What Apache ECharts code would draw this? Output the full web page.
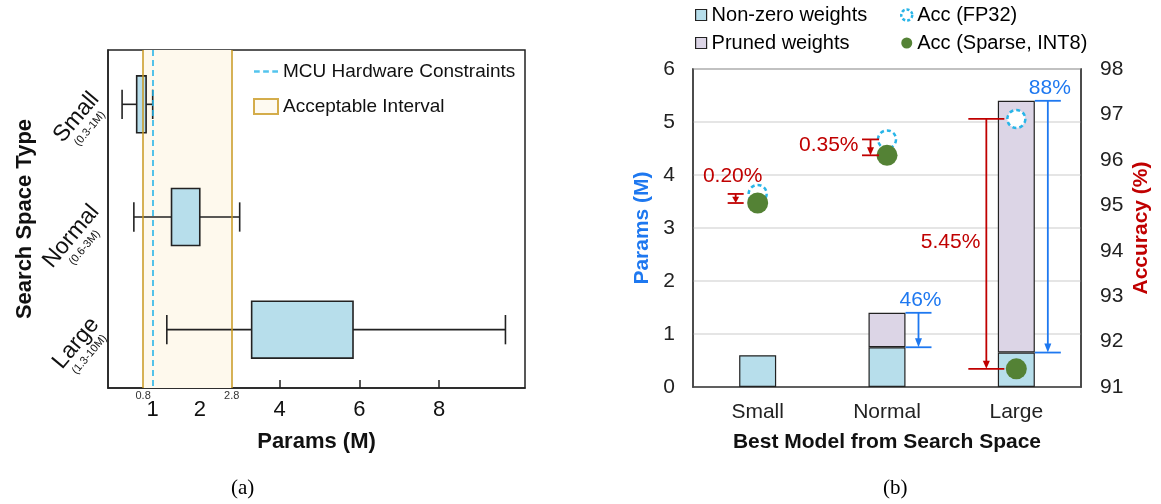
<!DOCTYPE html>
<html>
<head>
<meta charset="utf-8">
<script src="https://cdn.jsdelivr.net/npm/echarts@6/dist/echarts.min.js"></script>
<style>
html,body{margin:0;padding:0;background:#fff;}
#c{width:1161px;height:504px;}
</style>
</head>
<body>
<div id="c"></div>
<script>
// ---------- (a) search-space box plot ----------
const L_CATS = ['Small', 'Normal', 'Large'];
const L_RANGES = ['(0.3-1M)', '(0.6-3M)', '(1.3-10M)'];
const L_LOW = [0.35, 0.6, 1.3];
const L_Q1 = [0.66, 1.4, 3.3];
const L_Q3 = [0.86, 2.0, 5.84];
const L_HIGH = [1.0, 3.0, 9.66];
const MCU_LIMIT = 1;
const INTERVAL = [0.8, 2.8];
const L_TICKS = [1, 2, 4, 6, 8];
const L_MINOR_TICKS = [2, 4, 6, 8];

// ---------- (b) best models ----------
const R_CATS = ['Small', 'Normal', 'Large'];
const NONZERO = [0.6, 0.75, 0.65];
const PRUNED = [null, 0.65, 4.75];
const ACC_FP32 = [95.25, 96.45, 96.9];
const ACC_INT8 = [95.05, 96.1, 91.4];
const DROP_LABELS = ['0.20%', '0.35%', '5.45%'];
const PRUNE_LABELS = [null, '46%', '88%'];

// The reference's Params axis is stretched below 2M (piecewise scale).
const STRETCH = 1.18;
function fx(v) { return v >= 2 ? v : 2 - (2 - v) * STRETCH; }

const FONT = 'Liberation Sans, Arial, sans-serif';
const BLUE_BOX = '#b7deeb';
const LAVENDER = '#dcd5e6';
const ORANGE = '#c9981f';
const CREAM = '#fef9ed';
const MCU_BLUE = '#29b5e8';
const RED = '#c00000';
const BLUE = '#1e78f0';
const GREEN = '#548235';

const boxData = L_CATS.map((c, i) => [i, fx(L_LOW[i]), fx(L_Q1[i]), fx(L_Q3[i]), fx(L_HIGH[i])]);
const tickPos = L_TICKS.map(fx);

const dropData = R_CATS.map((c, i) => [i, ACC_FP32[i], ACC_INT8[i]]);
const pruneData = [];
R_CATS.forEach((c, i) => {
  if (PRUNE_LABELS[i]) pruneData.push([i, NONZERO[i] + (PRUNED[i] || 0), NONZERO[i]]);
});
// styling of annotation brackets (pixel offsets), per category
const DROP_STYLE = [
  { dx: -22, cap: 8, lab: 'top' },
  { dx: -16.5, cap: 8.5, lab: 'left', lx: -12 },
  { dx: -30, cap: 18, lab: 'left', lx: -6 }
];

function arrowBracket(x, yTop, yBot, capL, capR, color, ah) {
  return [
    { type: 'line', shape: { x1: x, y1: yTop, x2: x, y2: yBot - ah + 1 }, style: { stroke: color, lineWidth: 1.8 } },
    { type: 'polygon', shape: { points: [[x - 3.5, yBot - ah], [x + 3.5, yBot - ah], [x, yBot]] }, style: { fill: color } },
    { type: 'line', shape: { x1: capL, y1: yTop, x2: capR, y2: yTop }, style: { stroke: color, lineWidth: 1.8 } },
    { type: 'line', shape: { x1: capL, y1: yBot, x2: capR, y2: yBot }, style: { stroke: color, lineWidth: 1.8 } }
  ];
}

const option = {
  animation: false,
  textStyle: { fontFamily: FONT },
  grid: [
    { left: 108, top: 50, width: 417, height: 338, show: true, borderColor: '#222', borderWidth: 1.5, backgroundColor: 'transparent' },
    { left: 693, top: 69, width: 388, height: 318, show: true, borderColor: '#404040', borderWidth: 1.5, backgroundColor: 'transparent' }
  ],
  legend: [
    {
      orient: 'vertical', left: 248, top: 57, itemGap: 16, itemWidth: 24, itemHeight: 15,
      textStyle: { fontSize: 19, color: '#111', fontFamily: FONT },
      data: [
        { name: 'MCU Hardware Constraints', icon: 'path://M0,0h5v2h-5z M8,0h5v2h-5z M16,0h5v2h-5z', itemStyle: { color: MCU_BLUE } },
        { name: 'Acceptable Interval', icon: 'rect', itemStyle: { color: CREAM, borderColor: ORANGE, borderWidth: 2 } }
      ]
    },
    {
      orient: 'vertical', left: 690, top: 0, itemGap: 8, itemWidth: 11, itemHeight: 11,
      textStyle: { fontSize: 20, color: '#000', fontFamily: FONT },
      data: [
        { name: 'Non-zero weights', icon: 'rect', itemStyle: { color: BLUE_BOX, borderColor: '#222', borderWidth: 1.2 } },
        { name: 'Pruned weights', icon: 'rect', itemStyle: { color: LAVENDER, borderColor: '#222', borderWidth: 1.2 } }
      ]
    },
    {
      orient: 'vertical', left: 895, top: 0, itemGap: 8, itemWidth: 11, itemHeight: 11,
      textStyle: { fontSize: 20, color: '#000', fontFamily: FONT },
      data: [
        { name: 'Acc (FP32)', icon: 'circle', itemStyle: { color: '#fff', borderColor: MCU_BLUE, borderWidth: 2.5, borderType: [3, 2] } },
        { name: 'Acc (Sparse, INT8)', icon: 'circle', itemStyle: { color: GREEN } }
      ]
    }
  ],
  xAxis: [
    {
      gridIndex: 0, type: 'value', min: -0.3, max: 10.15,
      axisLine: { show: true, onZero: false, lineStyle: { color: '#222', width: 1.5 } },
      axisTick: { show: true, inside: true, length: 8, customValues: L_MINOR_TICKS.map(fx), lineStyle: { color: '#222', width: 1.5 } },
      axisLabel: {
        customValues: tickPos, margin: 11, fontSize: 22, color: '#111',
        formatter: function (v) {
          const i = tickPos.findIndex(p => Math.abs(p - v) < 1e-6);
          return i >= 0 ? String(L_TICKS[i]) : '';
        }
      },
      splitLine: { show: false },
      name: 'Params (M)', nameLocation: 'middle', nameGap: 43,
      nameTextStyle: { fontSize: 22, fontWeight: 'bold', color: '#111' }
    },
    {
      gridIndex: 1, type: 'category', data: R_CATS,
      axisLine: { show: true, lineStyle: { color: '#404040', width: 1.5 } },
      axisTick: { show: false },
      axisLabel: { fontSize: 21, color: '#222', margin: 15 },
      name: 'Best Model from Search Space', nameLocation: 'middle', nameGap: 45,
      nameTextStyle: { fontSize: 21, fontWeight: 'bold', color: '#111' }
    }
  ],
  yAxis: [
    {
      gridIndex: 0, type: 'category', data: L_CATS, inverse: true,
      axisLine: { show: true, onZero: false, lineStyle: { color: '#222', width: 1.5 } },
      axisTick: { show: false },
      axisLabel: {
        rotate: 50, margin: 0, color: '#111', padding: [0, 0, 22, 0],
        formatter: (v, i) => '{a|' + v + '}\n{b|' + L_RANGES[i] + '}',
        rich: { a: { fontSize: 23, lineHeight: 23, color: '#111' }, b: { fontSize: 11, lineHeight: 12, color: '#111', align: 'center' } }
      },
      name: 'Search Space Type', nameLocation: 'middle', nameGap: 68, nameRotate: 90,
      nameTextStyle: { fontSize: 22, fontWeight: 'bold', color: '#111' }
    },
    {
      gridIndex: 1, type: 'value', min: 0, max: 6, interval: 1, position: 'left',
      axisLine: { show: true, lineStyle: { color: '#404040', width: 1.5 } },
      axisTick: { show: false },
      axisLabel: { fontSize: 21, color: '#222', margin: 18 },
      splitLine: { show: true, lineStyle: { color: '#dcdcdc', width: 1.5 } },
      name: 'Params (M)', nameLocation: 'middle', nameGap: 40, nameRotate: 90,
      nameTextStyle: { fontSize: 21, fontWeight: 'bold', color: BLUE }
    },
    {
      gridIndex: 1, type: 'value', min: 91, max: 98, interval: 1, position: 'right',
      axisLine: { show: true, lineStyle: { color: '#404040', width: 1.5 } },
      axisTick: { show: false },
      axisLabel: { fontSize: 21, color: '#222', margin: 19 },
      splitLine: { show: false },
      name: 'Accuracy (%)', nameLocation: 'middle', nameGap: 50, nameRotate: 90,
      nameTextStyle: { fontSize: 21, fontWeight: 'bold', color: RED }
    }
  ],
  series: [
    {
      name: 'Acceptable Interval', type: 'scatter', xAxisIndex: 0, yAxisIndex: 0, data: [], z: 1,
      markArea: {
        silent: true, itemStyle: { color: CREAM },
        data: [[{ xAxis: fx(INTERVAL[0]) }, { xAxis: fx(INTERVAL[1]) }]]
      },
      markLine: {
        silent: true, symbol: 'none',
        lineStyle: { color: ORANGE, width: 1.5, type: 'solid' },
        label: { position: 'end', fontSize: 11, color: '#333', distance: 2 },
        data: INTERVAL.map(v => ({ xAxis: fx(v), label: { formatter: String(v) } }))
      }
    },
    {
      name: 'MCU Hardware Constraints', type: 'scatter', xAxisIndex: 0, yAxisIndex: 0, data: [], z: 3,
      markLine: {
        silent: true, symbol: 'none',
        lineStyle: { color: MCU_BLUE, width: 1.6, type: [6, 4] },
        label: { show: false },
        data: [{ xAxis: fx(MCU_LIMIT) }]
      }
    },
    {
      name: 'boxes', type: 'custom', xAxisIndex: 0, yAxisIndex: 0, z: 2,
      encode: { x: [1, 2, 3, 4], y: 0 },
      data: boxData,
      renderItem: function (params, api) {
        const yi = api.value(0);
        const band = api.size([0, 1])[1];
        const bh = band * 0.505, ch = band * 0.26;
        const pL = api.coord([api.value(1), yi]);
        const p1 = api.coord([api.value(2), yi]);
        const p3 = api.coord([api.value(3), yi]);
        const pH = api.coord([api.value(4), yi]);
        const cy = pL[1] - 2;
        const ls = { stroke: '#222', lineWidth: 1.6 };
        return {
          type: 'group', children: [
            { type: 'line', shape: { x1: pL[0], y1: cy, x2: p1[0], y2: cy }, style: ls },
            { type: 'line', shape: { x1: p3[0], y1: cy, x2: pH[0], y2: cy }, style: ls },
            { type: 'line', shape: { x1: pL[0], y1: cy - ch / 2, x2: pL[0], y2: cy + ch / 2 }, style: ls },
            { type: 'line', shape: { x1: pH[0], y1: cy - ch / 2, x2: pH[0], y2: cy + ch / 2 }, style: ls },
            { type: 'rect', shape: { x: p1[0], y: cy - bh / 2, width: p3[0] - p1[0], height: bh }, style: { fill: BLUE_BOX, stroke: '#222', lineWidth: 1.6 } }
          ]
        };
      }
    },
    {
      name: 'Non-zero weights', type: 'bar', xAxisIndex: 1, yAxisIndex: 1, stack: 'w', barWidth: 37,
      itemStyle: { color: BLUE_BOX, borderColor: '#222', borderWidth: 1.2 },
      data: NONZERO
    },
    {
      name: 'Pruned weights', type: 'bar', xAxisIndex: 1, yAxisIndex: 1, stack: 'w', barWidth: 37,
      itemStyle: { color: LAVENDER, borderColor: '#222', borderWidth: 1.2 },
      data: PRUNED
    },
    {
      name: 'Acc (FP32)', type: 'scatter', xAxisIndex: 1, yAxisIndex: 2, symbolSize: 18, z: 4,
      itemStyle: { color: '#fff', borderColor: MCU_BLUE, borderWidth: 2.5, borderType: [4, 3], opacity: 1 },
      data: ACC_FP32
    },
    {
      name: 'Acc (Sparse, INT8)', type: 'scatter', xAxisIndex: 1, yAxisIndex: 2, symbolSize: 21, z: 5,
      itemStyle: { color: GREEN, opacity: 1 },
      data: ACC_INT8
    },
    {
      name: 'accDrop', type: 'custom', xAxisIndex: 1, yAxisIndex: 2, z: 6,
      encode: { x: 0, y: [1, 2] },
      data: dropData,
      renderItem: function (params, api) {
        const i = api.value(0);
        const st = DROP_STYLE[i];
        const pt = api.coord([i, api.value(1)]);
        const pb = api.coord([i, api.value(2)]);
        const x = pt[0] + st.dx;
        const ah = Math.min(8, (pb[1] - pt[1]) * 0.7);
        const ch = arrowBracket(x, pt[1], pb[1], x - st.cap, x + st.cap, RED, ah);
        let tx, ty, align, va;
        if (st.lab === 'top') { tx = x - 3; ty = pt[1] - 7; align = 'center'; va = 'bottom'; }
        else { tx = x + st.lx; ty = (pt[1] + pb[1]) / 2 - 2; align = 'right'; va = 'middle'; }
        ch.push({ type: 'text', style: { text: DROP_LABELS[i], x: tx, y: ty, align: align, verticalAlign: va, fill: RED, fontSize: 21, fontFamily: FONT } });
        return { type: 'group', children: ch };
      }
    },
    {
      name: 'pruneDrop', type: 'custom', xAxisIndex: 1, yAxisIndex: 1, z: 6,
      encode: { x: 0, y: [1, 2] },
      data: pruneData,
      renderItem: function (params, api) {
        const i = api.value(0);
        const pt = api.coord([i, api.value(1)]);
        const pb = api.coord([i, api.value(2)]);
        const x = pt[0] + 31.5;
        const ch = arrowBracket(x, pt[1], pb[1], pt[0] + 18.5, pt[0] + 44.5, BLUE, 9);
        ch.push({ type: 'text', style: { text: PRUNE_LABELS[i], x: x + 2, y: pt[1] - 2, align: 'center', verticalAlign: 'bottom', fill: BLUE, fontSize: 21, fontFamily: FONT } });
        return { type: 'group', children: ch };
      }
    }
  ],
  graphic: [
    { type: 'text', left: 231, top: 478, style: { text: '(a)', font: '21px "Liberation Serif", "Times New Roman", serif', fill: '#000' } },
    { type: 'text', left: 883, top: 478, style: { text: '(b)', font: '21px "Liberation Serif", "Times New Roman", serif', fill: '#000' } }
  ]
};

const chart = echarts.init(document.getElementById('c'), null, { renderer: 'canvas' });
chart.setOption(option);
</script>
</body>
</html>
